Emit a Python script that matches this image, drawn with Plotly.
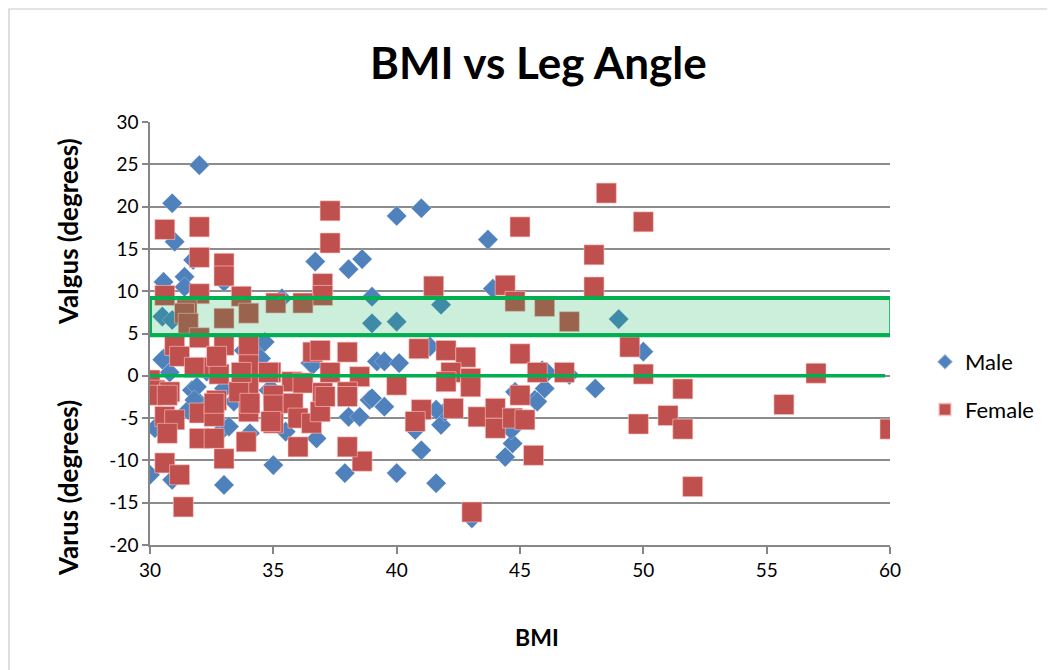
import plotly.graph_objects as go

# ---- Data ----
male_bmi = [32.0, 30.9, 31.0, 31.75, 30.55, 31.4, 31.4, 33.0, 35.35, 36.7, 38.05, 38.6, 39.0, 39.0,
            30.5, 30.9, 40.0, 41.0, 43.7, 43.9, 41.8, 40.0, 49.0, 50.0,
            30.55, 30.8, 31.7, 31.9, 31.55, 30.4, 33.0, 33.4, 34.5, 34.5, 34.8, 36.5, 38.05, 38.5,
            38.9, 39.2, 34.05, 35.0, 37.9, 33.0, 30.0, 30.9,
            39.5, 40.1, 41.35, 39.0, 39.5, 40.75, 41.8, 41.95, 41.0, 40.0, 41.6, 43.05, 44.8, 45.6,
            46.0, 45.9, 47.0, 48.05, 44.7, 44.4, 44.65, 46.1, 45.7,
            31.9, 31.8, 33.2, 30.2, 36.75, 35.5, 34.65, 36.6, 34.9, 41.6, 30.5, 33.0, 32.3, 33.8]
male_angle = [24.9, 20.4, 15.85, 13.7, 11.1, 11.7, 10.5, 11.1, 9.15, 13.5, 12.6, 13.8, 9.35, 6.2,
              7.0, 6.6, 18.9, 19.8, 16.1, 10.3, 8.4, 6.4, 6.7, 2.85,
              2.05, 0.4, -1.7, -2.9, -4.05, -6.0, -6.2, -3.05, 3.6, 2.05, -1.7, 1.5, -4.85, -4.85,
              -2.85, 1.7, -6.8, -10.55, -11.5, -12.9, -11.7, -12.3,
              1.7, 1.5, 3.45, -2.65, -3.65, -6.4, -5.8, -4.25, -8.8, -11.5, -12.7, -16.85, -1.9, -2.85,
              -1.5, 0.65, 0.1, -1.5, -8.0, -9.6, -6.4, 0.4, -3.05,
              -1.3, -2.85, -6.0, -6.2, -7.4, -6.6, 4.0, 1.3, -1.5, -4.0, 1.9, -1.5, 0.5, 3.0]

female_bmi = [30.6, 32.0, 32.0, 33.0, 33.0, 37.3, 37.3, 41.5, 45.0, 48.5, 48.0, 48.0, 44.4, 44.8,
              46.0, 47.0, 50.0,
              37.0, 37.0, 30.6, 32.0, 33.7, 35.1, 36.2, 33.0, 34.0, 31.5, 31.4, 31.55,
              31.0, 31.2, 32.0, 31.8, 32.6, 33.0, 32.8, 34.0, 34.0, 34.0, 34.9, 36.6, 36.9, 38.0,
              37.3, 38.5, 35.75, 36.2, 37.0, 38.0, 30.0, 30.2, 30.8, 30.6, 31.0, 30.7, 32.0, 32.6,
              32.7, 32.0, 32.6, 33.0, 34.0, 33.9, 35.0, 30.6, 31.2, 31.35, 33.6, 33.7, 32.7,
              40.9, 42.0, 42.8, 42.2, 43.0, 42.0, 43.0, 45.0, 45.7, 46.8, 40.0, 41.0, 40.75, 42.3,
              43.3, 44.0, 44.0, 44.7, 45.2, 45.0, 38.6, 45.55, 43.05, 49.45, 50.0, 49.8, 51.6,
              51.0, 51.6, 52.0, 55.7, 57.0, 60.0,
              35.0, 35.0, 35.8, 36.0, 36.55, 36.9, 37.1, 38.0, 36.0, 38.0, 30.07, 30.7, 32.6,
              34.05, 34.9, 34.8]
female_angle = [17.3, 17.6, 14.0, 13.3, 11.8, 19.5, 15.7, 10.6, 17.6, 21.6, 14.3, 10.5, 10.7, 8.8,
                8.2, 6.4, 18.2,
                10.9, 9.5, 9.5, 9.7, 9.4, 8.6, 8.6, 6.8, 7.4, 7.8, 7.4, 6.2,
                3.6, 2.3, 4.5, 1.0, 1.0, 3.6, 0.2, 3.6, 1.3, -1.3, 0.4, 2.8, 3.0, 2.8,
                0.4, -0.1, -0.7, -0.85, -2.0, -1.9, -0.5, -1.7, -1.9, -4.8, -5.2, -6.8, -4.4, -4.8,
                -2.9, -7.4, -7.4, -9.8, -4.25, -7.8, -2.3, -10.3, -11.7, -15.5, -1.9, 0.4, 2.3,
                3.2, 3.0, 2.2, 0.4, -0.3, -0.7, -1.3, 2.6, 0.4, 0.4, -1.1, -4.0, -5.4, -3.85,
                -4.85, -3.85, -6.2, -5.0, -5.2, -2.3, -10.1, -9.4, -16.1, 3.4, 0.2, -5.7, -1.55,
                -4.7, -6.3, -13.1, -3.4, 0.3, -6.3,
                -3.45, -5.6, -3.25, -5.0, -5.6, -4.25, -2.45, -2.45, -8.4, -8.4, -2.3, -2.3, -3.25,
                -3.25, -5.4, 0.4]

x_ticks = [30, 35, 40, 45, 50, 55, 60]
y_ticks = [30, 25, 20, 15, 10, 5, 0, -5, -10, -15, -20]
normal_low, normal_high = 4.8, 9.2

FONT = "Lato, 'Open Sans', sans-serif"

# page has an 8px body margin, so figure coordinates are page coordinates minus 8
OFF = 8
L, T, PW, PH = 150 - OFF, 122 - OFF, 740, 423
W, H = 1055 - OFF, 670 - OFF


def px(xp):
    return (xp - OFF - L) / PW


def py(yp):
    return (T + PH - (yp - OFF)) / PH


fig = go.Figure()
fig.add_trace(go.Scatter(
    x=male_bmi, y=male_angle, mode="markers", name="Male", legendgroup="m",
    marker=dict(symbol="diamond", size=15.5, color="#4F81BD",
                line=dict(width=0.8, color="rgba(255,255,255,0.35)"))))
fig.add_trace(go.Scatter(
    x=female_bmi, y=female_angle, mode="markers", name="Female", legendgroup="f",
    marker=dict(symbol="square", size=20, color="#C0504D",
                line=dict(width=1, color="rgba(255,200,200,0.6)"))))

# normal range band and zero line
fig.add_shape(type="rect", xref="x", yref="y", x0=30, x1=60.05, y0=normal_low, y1=normal_high,
              line=dict(color="#00B050", width=4), fillcolor="rgba(0,176,80,0.2)", layer="above")
fig.add_shape(type="line", xref="x", yref="y", x0=30, x1=59.8, y0=0, y1=0,
              line=dict(color="#00B050", width=3.5), layer="above")

# outer chart border
fig.add_shape(type="rect", xref="paper", yref="paper",
              x0=px(9), x1=px(1048), y0=py(700), y1=py(9),
              line=dict(color="#C8C8C8", width=1.2), fillcolor="rgba(0,0,0,0)", layer="below")

fig.add_annotation(text="<b>Valgus (degrees)</b>", textangle=-90, xref="paper", yref="paper",
                   x=px(68), y=py(232), xanchor="center", yanchor="middle", showarrow=False,
                   font=dict(family=FONT, size=26, color="black"))
fig.add_annotation(text="<b>Varus (degrees)</b>", textangle=-90, xref="paper", yref="paper",
                   x=px(68), y=py(488), xanchor="center", yanchor="middle", showarrow=False,
                   font=dict(family=FONT, size=26, color="black"))
fig.add_annotation(text="<b>BMI</b>", xref="paper", yref="paper",
                   x=px(537), y=py(637), xanchor="center", yanchor="middle", showarrow=False,
                   font=dict(family=FONT, size=23, color="black"))
fig.add_annotation(text="<b>BMI vs Leg Angle</b>", xref="paper", yref="paper",
                   x=px(538), y=py(62), xanchor="center", yanchor="middle", showarrow=False,
                   font=dict(family=FONT, size=44, color="black"))

fig.update_layout(
    width=W, height=H,
    margin=dict(l=L, r=W - L - PW, t=T, b=H - T - PH),
    paper_bgcolor="white", plot_bgcolor="white",
    font=dict(family=FONT, size=18, color="black"),
    showlegend=True,
    legend=dict(x=px(925), y=py(341), xanchor="left", yanchor="top", tracegroupgap=16,
                font=dict(family=FONT, size=22, color="black"), bgcolor="rgba(0,0,0,0)",
                itemsizing="constant"),
    xaxis=dict(range=[30, 60], tickvals=x_ticks, ticktext=[str(v) for v in x_ticks],
               showgrid=False, zeroline=False,
               showline=True, linecolor="#868686", linewidth=1.5,
               ticks="outside", ticklen=7, tickcolor="#868686", tickwidth=1.5,
               tickfont=dict(family=FONT, size=19, color="black")),
    yaxis=dict(range=[-20, 30], tickvals=y_ticks, ticktext=[str(v) for v in y_ticks],
               showgrid=True, gridcolor="#8C8C8C", gridwidth=1.5,
               zeroline=False, showline=True, linecolor="#868686", linewidth=1.5,
               ticks="outside", ticklen=6, tickcolor="#868686", tickwidth=1.5,
               tickfont=dict(family=FONT, size=19, color="black")),
)

fig.write_html("out.html")
